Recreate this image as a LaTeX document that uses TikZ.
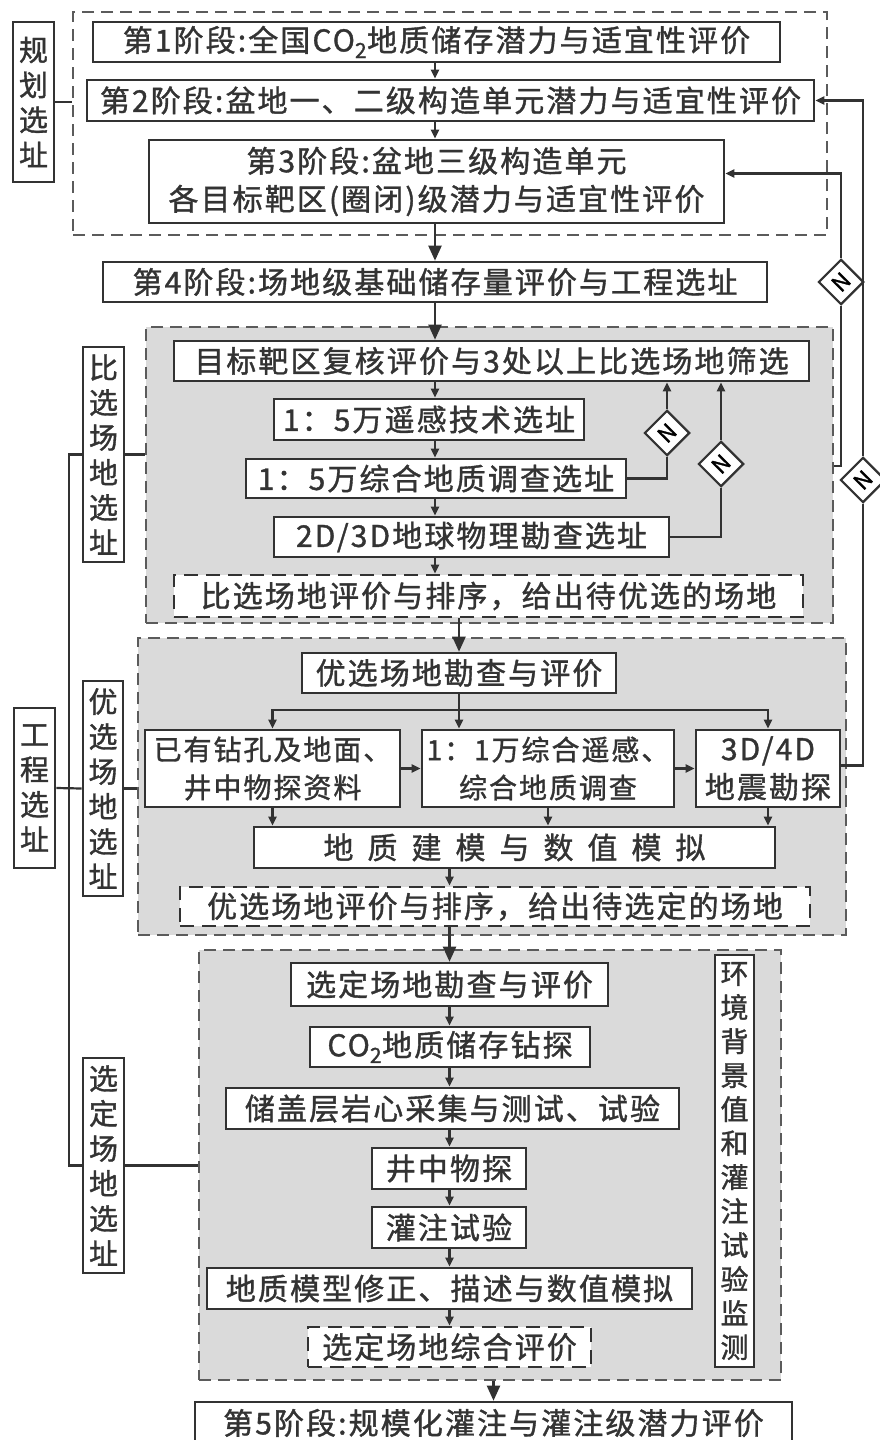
\documentclass[tikz,border=0pt]{standalone}
\usepackage{fontspec}
\usepackage{graphicx}
\newfontfamily\cjk[LetterSpace=7,FakeBold=1.2]{Noto Sans CJK SC}
\usetikzlibrary{shapes.geometric,arrows.meta}
\definecolor{fondgris}{RGB}{218,218,218}
\definecolor{trait}{RGB}{50,50,50}
\newcommand{\ecart}{\hspace{14pt}}

\begin{document}
\begin{tikzpicture}[x=1pt,y=-1pt,
  bx/.style={draw=trait, line width=2.6pt, fill=white, inner sep=0pt, align=center,
    text=black!80, font=\cjk\fontsize{30}{38}\selectfont},
  bxd/.style={bx, dash pattern=on 14pt off 8pt},
  vbx/.style={bx, font=\cjk\fontsize{29}{35}\selectfont},
  grp/.style={draw=trait!80, line width=2pt, dash pattern=on 12pt off 7pt, inner sep=0pt},
  ndia/.style={diamond, draw=trait, line width=2.2pt, fill=white, inner sep=0pt,
    minimum width=42pt, minimum height=40pt, font=\cjk\fontsize{22}{22}\selectfont},
  fl/.style={line width=2.2pt, draw=trait},
  pf/.style={fl, -{Triangle[length=9pt,width=8pt]}},
  gf/.style={fl, -{Triangle[length=15pt,width=13pt]}}]
  \useasboundingbox (0,0) rectangle (879,1440);

  % Groupes
  \node[grp, minimum width=754, minimum height=223] (g0) at (450,123.5) {};
  \node[grp, fill=fondgris, minimum width=687, minimum height=296] (g1) at (489.5,475) {};
  \node[grp, fill=fondgris, minimum width=708, minimum height=297] (g2) at (492,786.5) {};
  \node[grp, fill=fondgris, minimum width=582, minimum height=430] (g3) at (490,1165) {};

  % Etiquettes verticales
  \node[vbx, minimum width=41, minimum height=160] (h0) at (33.5,102) {规\\划\\选\\址};
  \node[vbx, minimum width=41, minimum height=160] (s0) at (34.5,788) {工\\程\\选\\址};
  \node[vbx, minimum width=41, minimum height=215] (s1) at (103.5,454.5) {比\\选\\场\\地\\选\\址};
  \node[vbx, minimum width=40, minimum height=215] (s2) at (103,788.5) {优\\选\\场\\地\\选\\址};
  \node[vbx, minimum width=41, minimum height=215] (s3) at (103.5,1165.5) {选\\定\\场\\地\\选\\址};

  % Etapes 1 a 4
  \node[bx, minimum width=687, minimum height=40] (b1) at (436.5,42) {第1阶段:全国CO\textsubscript{2}地质储存潜力与适宜性评价};
  \node[bx, minimum width=727, minimum height=41] (b2) at (450.5,100.5) {第2阶段:盆地一、二级构造单元潜力与适宜性评价};
  \node[bx, minimum width=575, minimum height=83] (b3) at (436.5,181.5) {第3阶段:盆地三级构造单元\\各目标靶区(圈闭)级潜力与适宜性评价};
  \node[bx, minimum width=664, minimum height=40] (b4) at (435,282) {第4阶段:场地级基础储存量评价与工程选址};

  % Choix des sites
  \node[bx, minimum width=635, minimum height=40] (c1) at (491.5,361) {目标靶区复核评价与3处以上比选场地筛选};
  \node[bx, minimum width=310, minimum height=41] (c2) at (429,419.5) {1：5万遥感技术选址};
  \node[bx, minimum width=380, minimum height=39] (c3) at (436,478.5) {1：5万综合地质调查选址};
  \node[bx, minimum width=395, minimum height=40] (c4) at (471.5,537) {2D/3D地球物理勘查选址};
  \node[bxd, minimum width=629, minimum height=42] (c5) at (488.5,596) {比选场地评价与排序，给出待优选的场地};

  % Sites preferes
  \node[bx, minimum width=314, minimum height=40] (d1) at (459,673) {优选场地勘查与评价};
  \node[bx, font=\cjk\fontsize{28}{38}\selectfont, minimum width=255, minimum height=77] (d2) at (272.5,768.5) {已有钻孔及地面、\\井中物探资料};
  \node[bx, font=\cjk\fontsize{28}{38}\selectfont, minimum width=252, minimum height=77] (d3) at (548,768.5) {1：1万综合遥感、\\综合地质调查};
  \node[bx, minimum width=144, minimum height=77] (d4) at (768,768.5) {3D/4D\\地震勘探};
  \node[bx, minimum width=521, minimum height=41] (d5) at (514.5,847.5) {地\ecart 质\ecart 建\ecart 模\ecart 与\ecart 数\ecart 值\ecart 模\ecart 拟};
  \node[bxd, minimum width=630, minimum height=39] (d6) at (495,906.5) {优选场地评价与排序，给出待选定的场地};

  % Site retenu
  \node[bx, minimum width=317, minimum height=43] (e1) at (449.5,984.5) {选定场地勘查与评价};
  \node[bx, minimum width=280, minimum height=40] (e2) at (450,1047) {CO\textsubscript{2}地质储存钻探};
  \node[bx, minimum width=453, minimum height=41] (e3) at (452.5,1108.5) {储盖层岩心采集与测试、试验};
  \node[bx, minimum width=154, minimum height=41] (e4) at (449,1168.5) {井中物探};
  \node[bx, minimum width=154, minimum height=41] (e5) at (449,1227.5) {灌注试验};
  \node[bx, minimum width=485, minimum height=41] (e6) at (449.5,1288.5) {地质模型修正、描述与数值模拟};
  \node[bxd, minimum width=283, minimum height=40] (e7) at (449.5,1347) {选定场地综合评价};
  \node[vbx, font=\cjk\fontsize{28}{34}\selectfont, minimum width=39, minimum height=412] (e8) at (734.5,1161) {环\\境\\背\\景\\值\\和\\灌\\注\\试\\验\\监\\测};
  \node[bx, minimum width=597, minimum height=42] (f) at (493.5,1423) {第5阶段:规模化灌注与灌注级潜力评价};

  % Losanges N
  \node[ndia] (n1) at (667,433) {\rotatebox{45}{N}};
  \node[ndia] (n2) at (721,464) {\rotatebox{45}{N}};
  \node[ndia] (n3) at (841,282) {\rotatebox{45}{N}};
  \node[ndia] (n4) at (863,480) {\rotatebox{45}{N}};

  % Liaisons a gauche
  \draw[fl] (h0.east) -- (h0.east -| g0.west);
  \draw[fl] (s1.west) -- ++(-13,0) |- (s3.west);
  \draw[fl] (s0.east) -- (s2.west);
  \draw[fl] (s1.east) -- (s1.east -| g1.west);
  \draw[fl] (s2.east) -- (s2.east -| g2.west);
  \draw[fl] (s3.east) -- (s3.east -| g3.west);

  % Fleches verticales
  \draw[pf] (b1.south -| b4) -- (b2.north -| b4);
  \draw[pf] (b2.south -| b4) -- (b3.north -| b4);
  \draw[gf] (b3.south -| b4) -- (b4.north);
  \draw[gf] (b4.south) -- (c1.north -| b4);
  \draw[pf] (c1.south -| b4) -- (c2.north -| b4);
  \draw[pf] (c2.south -| b4) -- (c3.north -| b4);
  \draw[pf] (c3.south -| b4) -- (c4.north -| b4);
  \draw[pf] (c4.south -| b4) -- (c5.north -| b4);
  \draw[gf] (c5.south -| d1) -- (d1.north);
  \coordinate (sp) at ([yshift=-16pt]d1.south);
  \draw[pf] (d1.south) -- (d3.north -| d1);
  \draw[pf] (sp) -| (d2.north);
  \draw[pf] (sp) -| (d4.north);
  \draw[pf] (d2.east) -- (d3.west);
  \draw[pf] (d3.east) -- (d4.west);
  \draw[pf] (d2.south) -- (d5.north -| d2);
  \draw[pf] (d3.south) -- (d5.north -| d3);
  \draw[pf] (d4.south) -- (d5.north -| d4);
  \draw[pf] (d5.south -| e1) -- (d6.north -| e1);
  \draw[gf] (d6.south -| e1) -- (e1.north);
  \draw[pf] (e1.south) -- (e2.north -| e1);
  \draw[pf] (e2.south -| e1) -- (e3.north -| e1);
  \draw[pf] (e3.south -| e1) -- (e4.north -| e1);
  \draw[pf] (e4.south -| e1) -- (e5.north -| e1);
  \draw[pf] (e5.south -| e1) -- (e6.north -| e1);
  \draw[pf] (e6.south -| e1) -- (e7.north -| e1);
  \draw[gf] (g3.south -| f) -- (f.north);

  % Retours
  \draw[fl] (c3.east) -| (n1);
  \draw[pf] (n1) -- (n1 |- c1.south);
  \draw[fl] (c4.east) -| (n2);
  \draw[pf] (n2) -- (n2 |- c1.south);
  \draw[fl] ([yshift=9pt]g1.east) -| (n3);
  \draw[pf] (n3) |- ([yshift=8pt]b3.east);
  \draw[fl] ([yshift=3pt]d4.east) -| (n4);
  \draw[pf] (n4) |- (b2.east);
\end{tikzpicture}
\end{document}
